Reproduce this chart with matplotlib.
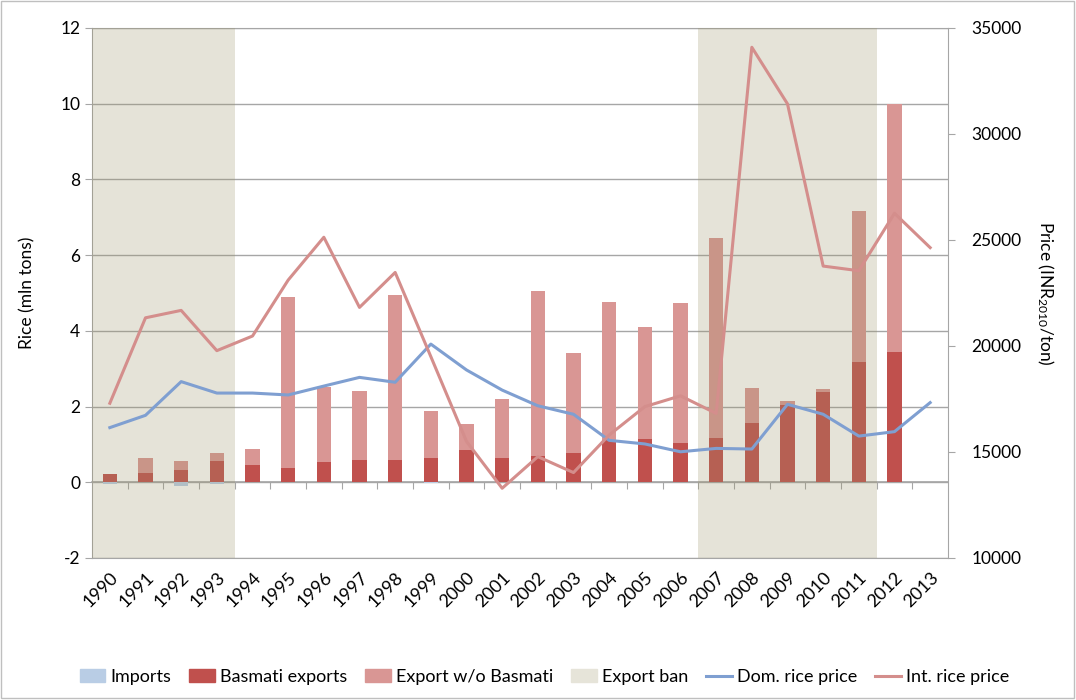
import matplotlib
matplotlib.use("Agg")
import matplotlib.pyplot as plt
from matplotlib.patches import Patch, Rectangle
from matplotlib.lines import Line2D
import numpy as np

plt.rcParams['font.family'] = ['Lato', 'DejaVu Sans']
plt.rcParams['mathtext.default'] = 'regular'
plt.rcParams['axes.unicode_minus'] = False

years = [str(y) for y in range(1990, 2014)]
imports = [-0.04, 0, -0.10, -0.04, 0, 0, 0, 0, 0, -0.01, 0, 0,
           0, 0, 0, 0, 0, 0, 0, 0, 0, 0, 0, 0]
basmati = [0.22, 0.25, 0.32, 0.55, 0.45, 0.38, 0.53, 0.58, 0.60, 0.63, 0.85, 0.65,
           0.70, 0.77, 1.12, 1.15, 1.05, 1.18, 1.57, 2.03, 2.39, 3.18, 3.45, 0]
non_basmati = [0.01, 0.40, 0.25, 0.23, 0.43, 4.52, 1.99, 1.82, 4.36, 1.26, 0.68, 1.55,
               4.36, 2.64, 3.65, 2.94, 3.69, 5.28, 0.91, 0.13, 0.07, 3.98, 6.53, 0]
dom_price = [16150, 16730, 18320, 17780, 17780, 17690, 18110, 18520, 18290, 20090, 18870, 17920,
             17180, 16780, 15550, 15380, 15010, 15170, 15140, 17250, 16780, 15750, 15960, 17330]
int_price = [17300, 21330, 21680, 19780, 20470, 23110, 25130, 21820, 23470, 19500, 15500, 13290,
             14780, 14030, 15800, 17140, 17650, 16820, 34090, 31420, 23770, 23550, 26260, 24640]
ban_years = ['1990', '1991', '1992', '1993', '2007', '2008', '2009', '2010', '2011']

c_imp = '#B9CDE5'
c_bas = '#C0504D'
c_non = '#D99694'
c_ban = '#E6E4D9'
c_dom = '#7F9FD1'
c_int = '#D48E8C'
c_grid = '#A6A6A6'

fig = plt.figure(figsize=(10.76, 7.0), dpi=100)
ax = fig.add_axes([92/1076, 1-558/700, (948-92)/1076, (558-28)/700])
x = np.arange(len(years))
w = 0.4

ax.bar(x, imports, w, color=c_imp, zorder=2)
ax.bar(x, basmati, w, color=c_bas, zorder=2)
ax.bar(x, non_basmati, w, bottom=basmati, color=c_non, zorder=2)

# export ban shading (translucent over bars)
for yr in ban_years:
    i = years.index(yr)
    ax.axvspan(i - 0.5, i + 0.5, facecolor=(155/255, 147/255, 103/255), alpha=0.25,
               edgecolor='none', zorder=3)

ax.set_xlim(-0.5, len(years) - 0.5)
ax.set_ylim(-2, 12)
ax.set_yticks(np.arange(-2, 13, 2))
ax.yaxis.grid(True, color=c_grid, lw=1, zorder=1)
ax.set_axisbelow(True)
ax.set_xticks(x)
ax.set_xticklabels(years, rotation=45, ha='right', rotation_mode='anchor', fontsize=13)
ax.tick_params(axis='x', length=0, pad=8)
ax.tick_params(axis='y', labelsize=12.5, length=5, color=c_grid, direction='out')
for s in ['left', 'bottom', 'top']:
    ax.spines[s].set_color(c_grid)
ax.spines['right'].set_visible(False)
ax.set_ylabel('Rice (mln tons)', fontsize=12.5, labelpad=18)

# zero axis with category tick marks
sec = ax.secondary_xaxis(2/14)
sec.set_xticks(np.arange(0.5, len(years) - 0.5, 1))
sec.tick_params(axis='x', length=5, color=c_grid, direction='out', labelbottom=False)
sec.spines['bottom'].set_color(c_grid)
sec.spines['bottom'].set_linewidth(1.2)

ax2 = ax.twinx()
ax2.plot(x, dom_price, color=c_dom, lw=2.2, zorder=5)
ax2.plot(x, int_price, color=c_int, lw=2.2, zorder=5)
ax2.set_ylim(10000, 35000)
ax2.set_yticks(np.arange(10000, 35001, 5000))
ax2.tick_params(axis='y', labelsize=12.5, length=5, color=c_grid, direction='out', pad=12)
for s in ['left', 'bottom', 'top']:
    ax2.spines[s].set_visible(False)
ax2.spines['right'].set_color(c_grid)
ax2.set_ylabel('Price (INR$_{2010}$/ton)', fontsize=12.5, rotation=270, labelpad=24)

handles = [Patch(color=c_imp), Patch(color=c_bas), Patch(color=c_non), Patch(color=c_ban),
           Line2D([], [], color=c_dom, lw=2.2), Line2D([], [], color=c_int, lw=2.2)]
labels = ['Imports', 'Basmati exports', 'Export w/o Basmati', 'Export ban',
          'Dom. rice price', 'Int. rice price']
fig.legend(handles, labels, loc='center', bbox_to_anchor=(0.506, 1-677/700), ncol=6,
           frameon=False, fontsize=13, handlelength=1.4, handletextpad=0.3,
           columnspacing=1.0)

fig.patches.append(Rectangle((0.001, 0.003), 0.997, 0.995, transform=fig.transFigure,
                             fill=False, edgecolor='#BFBFBF', lw=1))

fig.savefig('out.png', dpi=100)
